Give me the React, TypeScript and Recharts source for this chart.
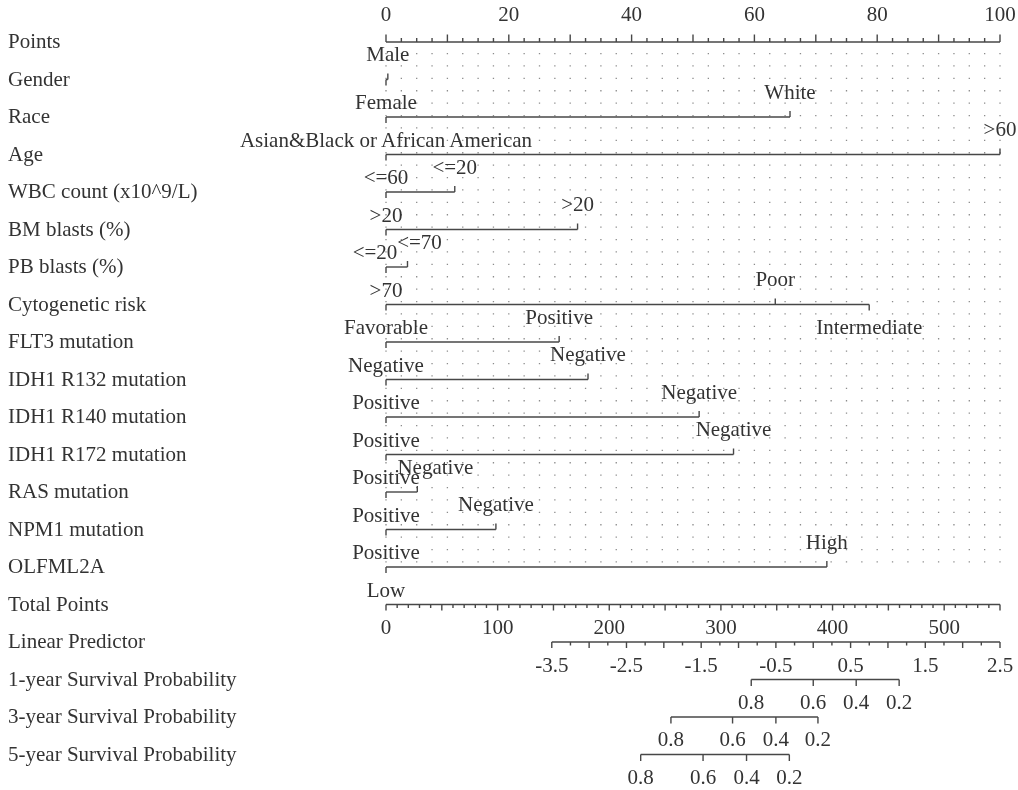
import React from 'react'
import { ComposedChart, XAxis, YAxis, Scatter, ReferenceLine } from 'recharts'

const rowNames = [
  'Points',
  'Gender',
  'Race',
  'Age',
  'WBC count (x10^9/L)',
  'BM blasts (%)',
  'PB blasts (%)',
  'Cytogenetic risk',
  'FLT3 mutation',
  'IDH1 R132 mutation',
  'IDH1 R140 mutation',
  'IDH1 R172 mutation',
  'RAS mutation',
  'NPM1 mutation',
  'OLFML2A',
  'Total Points',
  'Linear Predictor',
  '1-year Survival Probability',
  '3-year Survival Probability',
  '5-year Survival Probability',
]

// [level, points] for each predictor row
const gender: [string, number][] = [['Male', 0.3], ['Female', 0]]
const race: [string, number][] = [['White', 65.8], ['Asian&Black or African American', 0]]
const age: [string, number][] = [['>60', 100], ['<=60', 0]]
const wbcCount: [string, number][] = [['<=20', 11.2], ['>20', 0]]
const bmBlasts: [string, number][] = [['>20', 31.2], ['<=20', 0]]
const pbBlasts: [string, number][] = [['<=70', 3.5], ['>70', 0]]
const cytogenetic: [string, number][] = [['Favorable', 0], ['Poor', 63.4], ['Intermediate', 78.7]]
const flt3: [string, number][] = [['Positive', 28.2], ['Negative', 0]]
const idh1R132: [string, number][] = [['Negative', 32.9], ['Positive', 0]]
const idh1R140: [string, number][] = [['Negative', 51.0], ['Positive', 0]]
const idh1R172: [string, number][] = [['Negative', 56.6], ['Positive', 0]]
const ras: [string, number][] = [['Negative', 5.1], ['Positive', 0]]
const npm1: [string, number][] = [['Negative', 17.9], ['Positive', 0]]
const olfml2a: [string, number][] = [['High', 71.8], ['Low', 0]]

const predictors = [
  gender, race, age, wbcCount, bmBlasts, pbBlasts, cytogenetic,
  flt3, idh1R132, idh1R140, idh1R172, ras, npm1, olfml2a,
]

const pointsTickLabels = [0, 20, 40, 60, 80, 100]
const totalTickLabels = [0, 100, 200, 300, 400, 500]
const lpTickLabels = [-3.5, -2.5, -1.5, -0.5, 0.5, 1.5, 2.5]

// survival probabilities and the linear predictor they sit at
const survivalLabels = ['0.8', '0.6', '0.4', '0.2']
const survival1y = [-0.83, 0.0, 0.575, 1.15]
const survival3y = [-1.905, -1.08, -0.5, 0.063]
const survival5y = [-2.31, -1.475, -0.893, -0.32]

// scale relations between points, total points and linear predictor
const TOTAL_MAX = 550
const LP_MIN = -3.5
const LP_MAX = 2.5
const LP_START = 27.0 // points position of LP_MIN

const totalToPoints = (t: number) => (t * 100) / TOTAL_MAX
const lpToPoints = (lp: number) => LP_START + ((lp - LP_MIN) * (100 - LP_START)) / (LP_MAX - LP_MIN)

const TEXT = '#333'
const LINE = '#474747'
const FONT = "'Liberation Serif', 'Times New Roman', serif"
const FONT_SIZE = 21

// a few labels are pushed sideways so they don't collide
const labelNudge: Record<string, number> = {
  'BM blasts (%)|<=20': -11,
  'PB blasts (%)|<=70': 12,
  'RAS mutation|Negative': 18,
}

type Tick = { x: number; y: number; len: number }
type Label = { x: number; y: number; text: string; dy: number; dx: number }
type Seg = { y: number; from: number; to: number }

const ticks: Tick[] = []
const labels: Label[] = []
const segs: Seg[] = []

// Points axis
segs.push({ y: 0, from: 0, to: 100 })
for (let i = 0; i <= 40; i++) ticks.push({ x: i * 2.5, y: 0, len: i % 4 === 0 ? -7.5 : -4 })
pointsTickLabels.forEach((v) => labels.push({ x: v, y: 0, text: String(v), dy: -21, dx: 0 }))

// predictor rows: sorted by points, labels alternate below / above
predictors.forEach((levels, k) => {
  const row = k + 1
  const sorted = [...levels].sort((a, b) => a[1] - b[1])
  segs.push({ y: row, from: sorted[0][1], to: sorted[sorted.length - 1][1] })
  sorted.forEach(([name, pts], j) => {
    const below = j % 2 === 0
    ticks.push({ x: pts, y: row, len: below ? 6 : -6 })
    labels.push({
      x: pts,
      y: row,
      text: name,
      dy: below ? 29.5 : -18.5,
      dx: labelNudge[`${rowNames[row]}|${name}`] ?? 0,
    })
  })
})

// Total Points
segs.push({ y: 15, from: 0, to: 100 })
for (let i = 0; i <= TOTAL_MAX / 10; i++) ticks.push({ x: totalToPoints(i * 10), y: 15, len: i % 5 === 0 ? 6 : 3.5 })
totalTickLabels.forEach((v) => labels.push({ x: totalToPoints(v), y: 15, text: String(v), dy: 29, dx: 0 }))

// Linear Predictor
segs.push({ y: 16, from: lpToPoints(LP_MIN), to: lpToPoints(LP_MAX) })
for (let i = 0; i <= (LP_MAX - LP_MIN) * 4; i++) {
  ticks.push({ x: lpToPoints(LP_MIN + i * 0.25), y: 16, len: i % 2 === 0 ? 6 : 3.5 })
}
lpTickLabels.forEach((v) => labels.push({ x: lpToPoints(v), y: 16, text: String(v), dy: 30, dx: 0 }))

// survival scales
;[survival1y, survival3y, survival5y].forEach((lps, k) => {
  const row = 17 + k
  segs.push({ y: row, from: lpToPoints(lps[0]), to: lpToPoints(lps[lps.length - 1]) })
  lps.forEach((lp, j) => {
    ticks.push({ x: lpToPoints(lp), y: row, len: 6.5 })
    labels.push({ x: lpToPoints(lp), y: row, text: survivalLabels[j], dy: 29, dx: 0 })
  })
})

const gridX = Array.from({ length: 41 }, (_, i) => i * 2.5)

const TickMark = (props: any) => {
  const { cx, cy, payload } = props
  return <line x1={cx} y1={cy} x2={cx} y2={cy + payload.len} stroke={LINE} strokeWidth={1.4} />
}

const TextMark = (props: any) => {
  const { cx, cy, payload } = props
  return (
    <text
      x={cx + payload.dx}
      y={cy + payload.dy}
      textAnchor="middle"
      fill={TEXT}
      fontFamily={FONT}
      fontSize={FONT_SIZE}
    >
      {payload.text}
    </text>
  )
}

const RowName = (props: any) => {
  const { y, payload } = props
  return (
    <text x={8} y={y + 6} textAnchor="start" fill={TEXT} fontFamily={FONT} fontSize={FONT_SIZE}>
      {rowNames[payload.value]}
    </text>
  )
}

const App: React.FC = () => (
  <div style={{ position: 'fixed', left: 0, top: 0, width: 1018, height: 790, overflow: 'hidden' }}>
    <ComposedChart width={1018} height={790} margin={{ top: 42, right: 18, bottom: 35.5, left: 0 }}>
      <XAxis dataKey="x" type="number" domain={[0, 100]} hide />
      <YAxis
        dataKey="y"
        type="number"
        domain={[0, 19]}
        reversed
        width={386}
        ticks={rowNames.map((_, i) => i)}
        interval={0}
        axisLine={false}
        tickLine={false}
        tick={RowName}
      />
      {gridX.map((x) => (
        <ReferenceLine
          key={`g${x}`}
          segment={[{ x, y: 0.29 }, { x, y: 14.07 }]}
          stroke="#8c8c8c"
          strokeWidth={1.3}
          strokeDasharray="1.3 11.1"
        />
      ))}
      {segs.map((s, i) => (
        <ReferenceLine
          key={`s${i}`}
          segment={[{ x: s.from, y: s.y }, { x: s.to, y: s.y }]}
          stroke={LINE}
          strokeWidth={1.4}
        />
      ))}
      <Scatter data={ticks} shape={TickMark} isAnimationActive={false} />
      <Scatter data={labels} shape={TextMark} isAnimationActive={false} />
    </ComposedChart>
  </div>
)

export default App
